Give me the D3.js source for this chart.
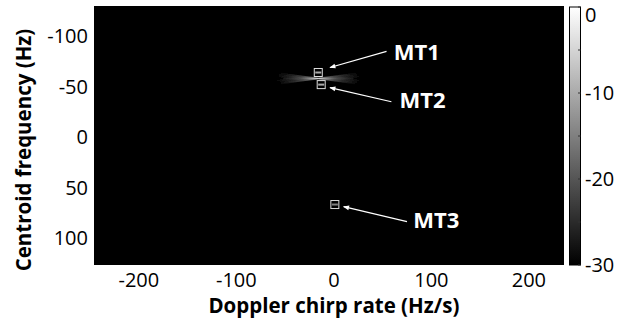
<!DOCTYPE html>
<html>
<head>
<meta charset="utf-8">
<script src="https://cdn.jsdelivr.net/npm/d3@7"></script>
<style>
  body { margin: 0; background: #fff; }
  text { font-family: "Open Sans", Lato, sans-serif; }
</style>
</head>
<body>
<svg id="chart" width="641" height="327"></svg>
<script>
// axis values
const chirpTicks = [-200, -100, 0, 100, 200];
const freqTicks = [-100, -50, 0, 50, 100];
const dbTicks = [0, -10, -20, -30];
const dbMinor = [0, -5, -10, -15, -20, -25, -30];

// targets (chirp Hz/s, freq Hz, level dB)
const targetNames = ["MT1", "MT2", "MT3"];
const targetChirp = [-16, -13, 1];
const targetFreq = [-64, -52, 67];
const targetDb = [-10, -10, -15];

// label / arrow placement in data coords
const labelChirp = [85, 91, 105];
const labelFreq = [-84, -37, 82];
const arrowTailChirp = [54, 59, 75];
const arrowTailFreq = [-85, -35, 84];
const arrowHeadChirp = [-4, -4, 10];
const arrowHeadFreq = [-69, -49, 69];

// sidelobe fan around MT1/MT2: centre, ray ends (offsets) and ray levels
const glowCenter = [-16, -58];
const rayDx = [-42, -44, -40, -36, -44, -38, -42, 42, 40, 44, 36, 44, 40, 42];
const rayDy = [-6, -4, -2, 0, 2, 4, 6, -6, -4, -2, 0, 2, 4, 6];
const rayDb = [-26, -24, -22, -21, -22, -24, -26, -26, -24, -22, -21, -22, -24, -26];

const svg = d3.select("#chart");
const x = d3.scaleLinear().domain([-246, 236]).range([94, 564]);
const y = d3.scaleLinear().domain([-130, 127]).range([6, 265]);
const gray = d3.scaleLinear().domain([-30, 0]).range(["#000", "#fff"]);

const cx0 = x(glowCenter[0]), cy0 = y(glowCenter[1]);
const defs = svg.append("defs");

const rg = defs.append("radialGradient").attr("id", "glow")
  .attr("gradientUnits", "userSpaceOnUse")
  .attr("cx", cx0).attr("cy", cy0).attr("r", 44)
  .attr("gradientTransform", `translate(${cx0},${cy0}) scale(1,0.3) translate(${-cx0},${-cy0})`);
rg.append("stop").attr("offset", "0%").attr("stop-color", gray(-18));
rg.append("stop").attr("offset", "40%").attr("stop-color", gray(-25));
rg.append("stop").attr("offset", "100%").attr("stop-color", gray(-30));

// fading stroke for rays, left and right of the centre
[["fadeL", -44], ["fadeR", 44]].forEach(([id, dx]) => {
  const g = defs.append("linearGradient").attr("id", id)
    .attr("gradientUnits", "userSpaceOnUse")
    .attr("x1", cx0).attr("y1", 0).attr("x2", x(glowCenter[0] + dx)).attr("y2", 0);
  g.append("stop").attr("offset", "0%").attr("stop-color", "#fff").attr("stop-opacity", 1);
  g.append("stop").attr("offset", "100%").attr("stop-color", "#fff").attr("stop-opacity", 0);
});

defs.append("filter").attr("id", "blur").append("feGaussianBlur").attr("stdDeviation", 0.7);

const cb = defs.append("linearGradient").attr("id", "cbar")
  .attr("x1", 0).attr("y1", 1).attr("x2", 0).attr("y2", 0);
cb.append("stop").attr("offset", "0%").attr("stop-color", gray(-30));
cb.append("stop").attr("offset", "100%").attr("stop-color", gray(0));

defs.append("marker").attr("id", "arrow")
  .attr("viewBox", "0 0 10 10").attr("refX", 9).attr("refY", 5)
  .attr("markerWidth", 7).attr("markerHeight", 6).attr("orient", "auto")
  .attr("markerUnits", "userSpaceOnUse")
  .append("path").attr("d", "M0,1 L10,5 L0,9 z").attr("fill", "#fff");

// image background
svg.append("rect")
  .attr("x", x(-246)).attr("y", y(-130))
  .attr("width", x(236) - x(-246)).attr("height", y(127) - y(-130))
  .attr("fill", gray(-30));

// sidelobe fan
const glowG = svg.append("g").attr("filter", "url(#blur)");
[[0, 7], [7, 14]].forEach(([a, b]) => {
  const pts = [[cx0, cy0 - 1]];
  for (let i = a; i < b; i++) pts.push([x(glowCenter[0] + rayDx[i]), y(glowCenter[1] + rayDy[i])]);
  pts.push([cx0, cy0 + 1]);
  glowG.append("polygon").attr("points", pts.map(p => p.join(",")).join(" "))
    .attr("fill", "url(#glow)");
});
glowG.selectAll("line.ray").data(rayDx).join("line")
  .attr("class", "ray")
  .attr("x1", cx0).attr("y1", cy0)
  .attr("x2", d => x(glowCenter[0] + d))
  .attr("y2", (d, i) => y(glowCenter[1] + rayDy[i]))
  .attr("stroke", d => d < 0 ? "url(#fadeL)" : "url(#fadeR)")
  .attr("stroke-width", 0.8)
  .attr("opacity", (d, i) => (rayDb[i] + 30) / 30);

// target spots and boxes
targetNames.forEach((n, i) => {
  const tx = x(targetChirp[i]), ty = y(targetFreq[i]);
  svg.append("rect").attr("x", tx - 3).attr("y", ty - 1)
    .attr("width", 6).attr("height", 2).attr("fill", gray(targetDb[i]));
  svg.append("rect").attr("x", tx - 4).attr("y", ty - 4)
    .attr("width", 8).attr("height", 8)
    .attr("fill", "none").attr("stroke", "#ddd").attr("stroke-width", 1);
});

// arrows and labels
targetNames.forEach((n, i) => {
  svg.append("line")
    .attr("x1", x(arrowTailChirp[i])).attr("y1", y(arrowTailFreq[i]))
    .attr("x2", x(arrowHeadChirp[i])).attr("y2", y(arrowHeadFreq[i]))
    .attr("stroke", "#fff").attr("stroke-width", 1.2)
    .attr("marker-end", "url(#arrow)");
  svg.append("text")
    .attr("x", x(labelChirp[i])).attr("y", y(labelFreq[i]))
    .attr("dy", "0.36em").attr("text-anchor", "middle")
    .attr("fill", "#fff").attr("font-weight", "bold").attr("font-size", 22)
    .text(n);
});

// axes labels (ticks hidden in the black image)
svg.append("g").selectAll("text").data(chirpTicks).join("text")
  .attr("x", d => x(d)).attr("y", 287)
  .attr("text-anchor", "middle").attr("font-size", 20).text(d => d);
svg.append("g").selectAll("text").data(freqTicks).join("text")
  .attr("x", 88).attr("y", d => y(d)).attr("dy", "0.36em")
  .attr("text-anchor", "end").attr("font-size", 20).text(d => d);

svg.append("text").attr("x", x(0)).attr("y", 313)
  .attr("text-anchor", "middle").attr("font-size", 20.5).attr("font-weight", "bold")
  .text("Doppler chirp rate (Hz/s)");
svg.append("text")
  .attr("transform", `translate(31,${y(0) + 13}) rotate(-90)`)
  .attr("text-anchor", "middle").attr("font-size", 20.5).attr("font-weight", "bold")
  .text("Centroid frequency (Hz)");

// colour bar
const cbY = d3.scaleLinear().domain([-30, 0]).range([265, 7]);
svg.append("rect").attr("x", 569.5).attr("y", cbY(0)).attr("width", 11)
  .attr("height", cbY(-30) - cbY(0))
  .attr("fill", "url(#cbar)").attr("stroke", "#000").attr("stroke-width", 1);
svg.append("g").selectAll("line").data(dbMinor).join("line")
  .attr("x1", 578).attr("x2", 580.5)
  .attr("y1", d => cbY(d)).attr("y2", d => cbY(d))
  .attr("stroke", "#333").attr("stroke-width", 1);
svg.append("g").selectAll("text").data(dbTicks).join("text")
  .attr("x", 585).attr("y", d => Math.max(cbY(d), 15)).attr("dy", "0.36em")
  .attr("font-size", 20).text(d => d);
</script>
</body>
</html>
